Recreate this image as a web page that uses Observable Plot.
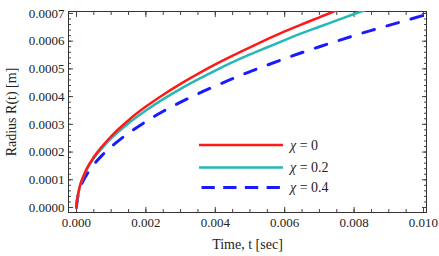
<!DOCTYPE html>
<html>
<head>
<meta charset="utf-8">
<script src="https://cdn.jsdelivr.net/npm/d3@7"></script>
<script src="https://cdn.jsdelivr.net/npm/@observablehq/plot@0.6"></script>
<style>
  body { margin: 0; background: #fff; }
  #wrap { position: relative; width: 439px; height: 256px; font-family: "Liberation Serif", serif; }
  #wrap svg text { font-family: "Liberation Serif", serif; }
  #legend { position: absolute; left: 0; top: 0; pointer-events: none; }
</style>
</head>
<body>
<div id="wrap"></div>
<script>
const time = [0, 0.00002, 0.00005, 0.0001, 0.0002, 0.0003, 0.0005, 0.00075, 0.001, 0.0015, 0.002, 0.0025, 0.003, 0.0035, 0.004, 0.0045, 0.005, 0.0055, 0.006, 0.0065, 0.007, 0.0075, 0.008, 0.0085, 0.009, 0.0095, 0.010];
const chi0 = [0, 0.000030, 0.000050, 0.000078, 0.000113, 0.000141, 0.000182, 0.000222, 0.000257, 0.000315, 0.000364, 0.000407, 0.000446, 0.000482, 0.000516, 0.000548, 0.000578, 0.000607, 0.000635, 0.000661, 0.000686, 0.000711, 0.000734, null, null, null, null];
const chi02 = [0, 0.000030, 0.000050, 0.000077, 0.000111, 0.000138, 0.000178, 0.000216, 0.000249, 0.000304, 0.000350, 0.000391, 0.000428, 0.000462, 0.000494, 0.000524, 0.000552, 0.000578, 0.000604, 0.000629, 0.000652, 0.000675, 0.000698, 0.000720, null, null, null];
const chi04 = [0, 0.000025, 0.000045, 0.0000693, 0.000098, 0.00012, 0.000155, 0.00019, 0.000219, 0.000268, 0.00031, 0.000347, 0.00038, 0.00041, 0.000438, 0.000465, 0.00049, 0.000514, 0.000537, 0.000559, 0.00058, 0.0006, 0.00062, 0.000639, 0.000657, 0.000675, 0.000693];
const seriesNames = ["χ = 0", "χ = 0.2", "χ = 0.4"];
const xTicks = [0, 0.002, 0.004, 0.006, 0.008, 0.010];
const xMinor = d3.range(0, 21).map(i => i * 0.0005);
const yTicks = [0, 0.0001, 0.0002, 0.0003, 0.0004, 0.0005, 0.0006, 0.0007];
const yMinor = d3.range(0, 36).map(i => i * 0.00002);
const xLabel = "Time, t [sec]";
const yLabel = "Radius R(t) [m]";

const colors = ["#ff1a1a", "#26b8b4", "#1a1aff"];
const series = [chi0, chi02, chi04];
const rows = [];
series.forEach((vals, s) => time.forEach((t, i) => { if (vals[i] != null) rows.push({t, r: vals[i], s: seriesNames[s]}); }));

const font = "'Liberation Serif', serif";
const plot = Plot.plot({
  width: 439, height: 256,
  marginLeft: 68, marginRight: 13, marginTop: 11, marginBottom: 44,
  style: {fontFamily: font, fontSize: "13px", color: "#222", background: "#fff"},
  x: {domain: [-0.00023, 0.0100865]},
  y: {domain: [-0.000018, 0.000707]},
  marks: [
    Plot.axisX({anchor: "bottom", ticks: xMinor, tickSize: -3, tickFormat: () => "", label: null, stroke: "#444"}),
    Plot.axisX({anchor: "top", ticks: xMinor, tickSize: -3, tickFormat: () => "", label: null, stroke: "#444"}),
    Plot.axisY({anchor: "left", ticks: yMinor, tickSize: -3, tickFormat: () => "", label: null, stroke: "#444"}),
    Plot.axisY({anchor: "right", ticks: yMinor, tickSize: -3, tickFormat: () => "", label: null, stroke: "#444"}),
    Plot.axisX({anchor: "bottom", ticks: xTicks, tickSize: -5, tickPadding: 10, tickFormat: d3.format(".3f"), label: null, stroke: "#444", fill: "#222"}),
    Plot.axisX({anchor: "top", ticks: xTicks, tickSize: -5, tickFormat: () => "", label: null, stroke: "#444"}),
    Plot.axisY({anchor: "left", ticks: yTicks, tickSize: -5, tickPadding: 9, tickFormat: d3.format(".4f"), label: null, stroke: "#444", fill: "#222"}),
    Plot.axisY({anchor: "right", ticks: yTicks, tickSize: -5, tickFormat: () => "", label: null, stroke: "#444"}),
    Plot.axisX({anchor: "bottom", ticks: xTicks, tickSize: 0, tickFormat: () => "", label: xLabel, labelAnchor: "center", labelArrow: "none", labelOffset: 36, fontSize: 14, fill: "#222"}),
    Plot.axisY({anchor: "left", ticks: yTicks, tickSize: 0, tickFormat: () => "", label: yLabel, labelAnchor: "center", labelArrow: "none", labelOffset: 62, fontSize: 14, fill: "#222"}),
    Plot.frame({stroke: "#333", strokeWidth: 1}),
    Plot.line(rows.filter(d => d.s === seriesNames[2]), {x: "t", y: "r", stroke: colors[2], strokeWidth: 3, strokeDasharray: "12,13", curve: "monotone-x", clip: true}),
    Plot.line(rows.filter(d => d.s === seriesNames[1]), {x: "t", y: "r", stroke: colors[1], strokeWidth: 2.5, curve: "monotone-x", clip: true}),
    Plot.line(rows.filter(d => d.s === seriesNames[0]), {x: "t", y: "r", stroke: colors[0], strokeWidth: 2.5, curve: "monotone-x", clip: true})
  ]
});
const wrap = document.getElementById("wrap");
wrap.appendChild(plot);

// legend overlay
const ns = "http://www.w3.org/2000/svg";
const lg = document.createElementNS(ns, "svg");
lg.setAttribute("id", "legend");
lg.setAttribute("width", 439); lg.setAttribute("height", 256);
const ys = [145, 167.5, 187.5];
seriesNames.forEach((name, i) => {
  const ln = document.createElementNS(ns, "line");
  ln.setAttribute("x1", i === 2 ? 201.5 : 199); ln.setAttribute("x2", i === 2 ? 281 : 283);
  ln.setAttribute("y1", ys[i]); ln.setAttribute("y2", ys[i]);
  ln.setAttribute("stroke", colors[i]);
  ln.setAttribute("stroke-width", i === 2 ? 3 : 2.5);
  if (i === 2) ln.setAttribute("stroke-dasharray", "13.3,8.4");
  lg.appendChild(ln);
  const tx = document.createElementNS(ns, "text");
  tx.setAttribute("x", 290); tx.setAttribute("y", ys[i]);
  tx.setAttribute("dy", "0.35em");
  tx.setAttribute("font-family", font);
  tx.setAttribute("font-size", "14px");
  tx.setAttribute("fill", "#222");
  const sym = name.slice(0, 1), rest = name.slice(1);
  const t1 = document.createElementNS(ns, "tspan"); t1.setAttribute("font-style", "italic"); t1.textContent = sym;
  const t2 = document.createElementNS(ns, "tspan"); t2.textContent = rest;
  tx.appendChild(t1); tx.appendChild(t2);
  lg.appendChild(tx);
});
wrap.appendChild(lg);
</script>
</body>
</html>
